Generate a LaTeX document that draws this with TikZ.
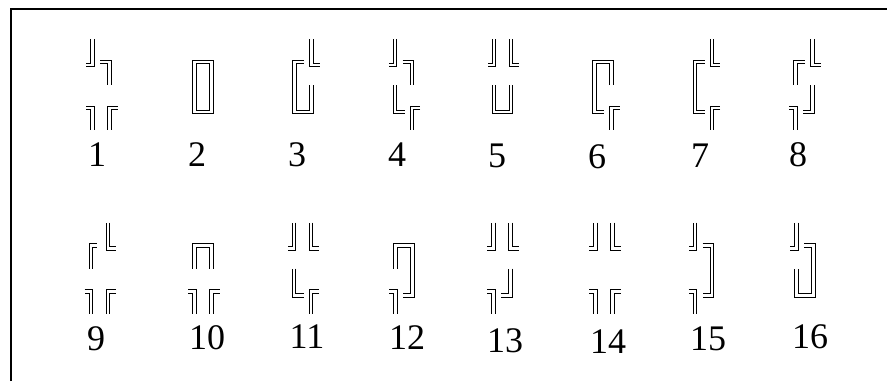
\documentclass[tikz,border=0pt]{standalone}
\usepackage{fontspec}
\setmainfont{Liberation Serif}
\begin{document}
\begin{tikzpicture}[x=1pt,y=-1pt,
  pipe/.style={draw=black, double=white, line width=1.3pt, double distance=2.2pt, line join=miter},
  frameline/.style={draw=black, line width=1.3pt},
  num/.style={anchor=base, inner sep=0pt, font=\fontsize{36}{40}\selectfont}]
\useasboundingbox (0,0) rectangle (887,381);
% frame (top and left edges only)
\coordinate (fbl) at (11,381);
\coordinate (ftl) at (11,9);
\coordinate (ftr) at (887,9);
\draw[frameline] (fbl) -- (ftl) -- (ftr);
% stub pieces (local coordinates)
\def\TL{\draw[pipe] (-8.5,39) -- (-8.5,65) -- (-15,65);}
\def\TR{\draw[pipe] (8.5,39) -- (8.5,65) -- (16.5,65);}
\def\BL{\draw[pipe] (-15,108) -- (-8.5,108) -- (-8.5,130);}
\def\BR{\draw[pipe] (16.5,108) -- (8.5,108) -- (8.5,130);}
% ---- row 1 ----
\begin{scope}[shift={(101,0)}]
 \TL \BL \BR
 \draw[pipe] (-1,62) -- (8.5,62) -- (8.5,85);
\end{scope}
\begin{scope}[shift={(203,0)}]
 \draw[pipe] (-8.5,62) rectangle (8.5,112);
\end{scope}
\begin{scope}[shift={(303,0)}]
 \TR
 \draw[pipe] (1,62) -- (-8.5,62) -- (-8.5,112) -- (8.5,112) -- (8.5,85);
\end{scope}
\begin{scope}[shift={(403.5,0)}]
 \TL \BR
 \draw[pipe] (-1,62) -- (8.5,62) -- (8.5,85);
 \draw[pipe] (-8.5,85) -- (-8.5,112) -- (1,112);
\end{scope}
\begin{scope}[shift={(502.5,0)}]
 \TL \TR
 \draw[pipe] (-8.5,85) -- (-8.5,112) -- (8.5,112) -- (8.5,85);
\end{scope}
\begin{scope}[shift={(603,0)}]
 \BR
 \draw[pipe] (8.5,85) -- (8.5,62) -- (-8.5,62) -- (-8.5,112) -- (1,112);
\end{scope}
\begin{scope}[shift={(703.5,0)}]
 \TR \BR
 \draw[pipe] (1,62) -- (-8.5,62) -- (-8.5,112) -- (1,112);
\end{scope}
\begin{scope}[shift={(804,0)}]
 \TR \BL
 \draw[pipe] (1,62) -- (-8.5,62) -- (-8.5,85);
 \draw[pipe] (8.5,85) -- (8.5,112) -- (-1,112);
\end{scope}
% ---- row 2 ----
\begin{scope}[shift={(99.5,183.5)}]
 \TR \BL \BR
 \draw[pipe] (-3,62) -- (-8.5,62) -- (-8.5,85);
\end{scope}
\begin{scope}[shift={(203,183.5)}]
 \BL \BR
 \draw[pipe] (-8.5,85) -- (-8.5,62) -- (8.5,62) -- (8.5,85);
\end{scope}
\begin{scope}[shift={(302.5,183.5)}]
 \TL \TR \BR
 \draw[pipe] (-8.5,85) -- (-8.5,112) -- (1,112);
\end{scope}
\begin{scope}[shift={(404,183.5)}]
 \BL
 \draw[pipe] (-8.5,85) -- (-8.5,62) -- (8.5,62) -- (8.5,112) -- (-1,112);
\end{scope}
\begin{scope}[shift={(502,183.5)}]
 \TL \TR \BL
 \draw[pipe] (8.5,85) -- (8.5,112) -- (-1,112);
\end{scope}
\begin{scope}[shift={(604,183.5)}]
 \TL \TR \BL \BR
\end{scope}
\begin{scope}[shift={(703.5,183.5)}]
 \TL \BL
 \draw[pipe] (-1,62) -- (8.5,62) -- (8.5,112) -- (-1,112);
\end{scope}
\begin{scope}[shift={(805,183.5)}]
 \TL
 \draw[pipe] (-1,62) -- (8.5,62) -- (8.5,112) -- (-8.5,112) -- (-8.5,85);
\end{scope}
% ---- labels ----
\node[num] (n1) at (97,166) {1};
\node[num] (n2) at (197,166) {2};
\node[num] (n3) at (297,166) {3};
\node[num] (n4) at (397,166) {4};
\node[num] (n5) at (497,167) {5};
\node[num] (n6) at (597,168) {6};
\node[num] (n7) at (700,167) {7};
\node[num] (n8) at (798,166) {8};
\node[num] (n9) at (96,350) {9};
\node[num] (n10) at (207,349) {10};
\node[num] (n11) at (307,348) {11};
\node[num] (n12) at (407,349) {12};
\node[num] (n13) at (505,352) {13};
\node[num] (n14) at (608,353) {14};
\node[num] (n15) at (708,350) {15};
\node[num] (n16) at (810,348) {16};
\end{tikzpicture}
\end{document}
